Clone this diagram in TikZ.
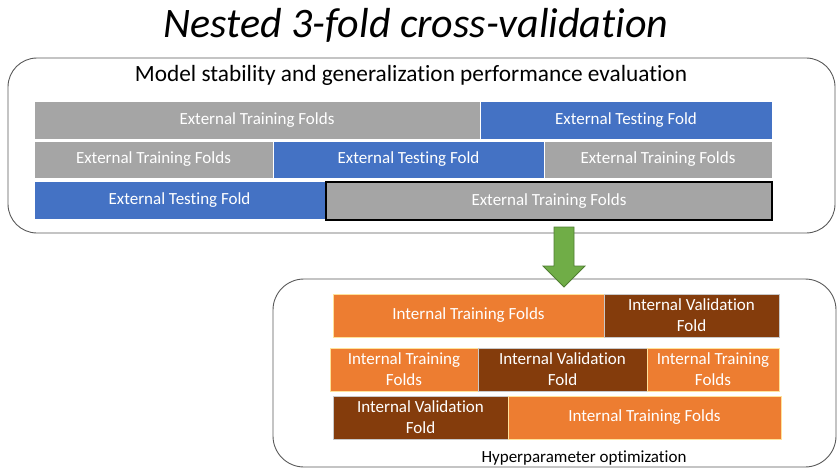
\documentclass[tikz,border=0pt]{standalone}
\usepackage{fontspec}
\setmainfont{Carlito}[Ligatures=NoCommon]
\definecolor{foldgray}{HTML}{A5A5A5}
\definecolor{foldblue}{HTML}{4472C4}
\definecolor{foldorange}{HTML}{ED7D31}
\definecolor{foldbrown}{HTML}{843C0C}
\definecolor{arrowgreen}{HTML}{70AD47}
\definecolor{arrowedge}{HTML}{507E32}
\definecolor{frameline}{HTML}{595959}
\definecolor{orangeedge}{HTML}{FFE29A}
\tikzset{
  frame/.style={draw=frameline, line width=0.9pt, rounded corners=29pt},
  cell/.style={inner sep=0pt, outer sep=0pt, text=white, align=center,
    font=\fontsize{17}{21}\selectfont},
  gray cell/.style={cell, fill=foldgray, draw=white, line width=0.8pt},
  blue cell/.style={cell, fill=foldblue, draw=white, line width=0.8pt},
  orange cell/.style={cell, fill=foldorange, draw=orangeedge, line width=0.8pt},
  brown cell/.style={cell, fill=foldbrown, draw=foldgray!60, line width=0.6pt},
}
% \foldcell{style}{name}{x1}{y1}{x2}{y2}{text}: a fold box spanning two corners
\newcommand{\foldcell}[7]{%
  \pgfmathsetmacro{\fcx}{(#3+#5)/2}%
  \pgfmathsetmacro{\fcy}{(#4+#6)/2}%
  \pgfmathsetmacro{\fcw}{abs(#5-#3)}%
  \pgfmathsetmacro{\fch}{abs(#6-#4)}%
  \node[#1, minimum width=\fcw pt, minimum height=\fch pt] (#2) at (\fcx,\fcy) {#7};}
\begin{document}
\begin{tikzpicture}[x=1pt, y=-1pt]
\useasboundingbox (0,0) rectangle (837,468);

% title
\node[anchor=base, font=\fontsize{42}{48}\selectfont\itshape] (title) at (416,38)
  {Nested 3-fold cross-validation};

% outer evaluation frame
\draw[frame] (8,58) rectangle (835,233);
\node[anchor=base, font=\fontsize{23.3}{28}\selectfont] (outerlabel) at (411,82)
  {Model stability and generalization performance evaluation};

% external folds
\foldcell{gray cell}{e11}{34}{101}{480}{139}{External Training Folds}
\foldcell{blue cell}{e12}{480}{101}{772}{139}{External Testing Fold}
\foldcell{gray cell}{e21}{34}{141}{273}{178}{External Training Folds}
\foldcell{blue cell}{e22}{273}{141}{544}{178}{External Testing Fold}
\foldcell{gray cell}{e23}{544}{141}{772}{178}{External Training Folds}
\foldcell{blue cell}{e31}{34}{181}{325}{219}{External Testing Fold}
\foldcell{gray cell, draw=black, line width=2pt}{e32}{326}{182}{772}{220}{External Training Folds}

% inner optimisation frame
\draw[frame, rounded corners=31pt] (273,279) rectangle (836,467);
\node[anchor=base, font=\fontsize{17}{21}\selectfont] (innerlabel) at (584,462)
  {Hyperparameter optimization};

% green block arrow from the outer to the inner frame
\coordinate (arrowtop) at (564,227);
\coordinate (arrowtip) at (564,287);
\filldraw[fill=arrowgreen, draw=arrowedge, line width=0.8pt, line join=miter]
  ([xshift=-10pt]arrowtop) -- ([xshift=10pt]arrowtop)
  -- ([xshift=10pt, yshift=-39pt]arrowtop) -- ([xshift=21pt, yshift=-39pt]arrowtop)
  -- (arrowtip)
  -- ([xshift=-21pt, yshift=-39pt]arrowtop) -- ([xshift=-10pt, yshift=-39pt]arrowtop)
  -- cycle;

% internal folds
\foldcell{orange cell}{i11}{333}{294}{604}{337}{Internal Training Folds}
\foldcell{brown cell}{i12}{604}{294}{779}{337}{Internal Validation\\Fold}
\foldcell{orange cell}{i21}{330}{348}{478}{391}{Internal Training\\Folds}
\foldcell{brown cell}{i22}{478}{348}{647}{391}{Internal Validation\\Fold}
\foldcell{orange cell}{i23}{647}{348}{779}{391}{Internal Training\\Folds}
\foldcell{brown cell}{i31}{333}{396}{508}{439}{Internal Validation\\Fold}
\foldcell{orange cell}{i32}{508}{396}{781}{439}{Internal Training Folds}
\end{tikzpicture}
\end{document}
